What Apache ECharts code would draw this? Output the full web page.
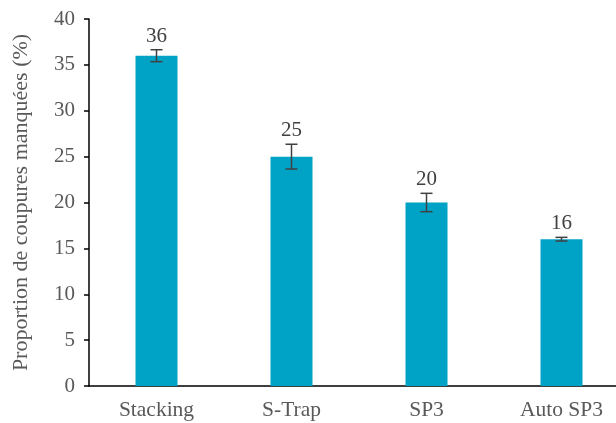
<!DOCTYPE html>
<html>
<head>
<meta charset="utf-8">
<script src="https://cdn.jsdelivr.net/npm/echarts@6/dist/echarts.min.js"></script>
<style>
  html, body { margin: 0; padding: 0; background: #fff; }
  #chart { width: 616px; height: 423px; }
</style>
</head>
<body>
<div id="chart"></div>
<script>
  // données
  const categories = ['Stacking', 'S-Trap', 'SP3', 'Auto SP3'];
  const values = [36, 25, 20, 16];
  const errors = [0.65, 1.35, 1.0, 0.2];
  const yTicks = { min: 0, max: 40, interval: 5 };

  const font = '"Liberation Serif", "DejaVu Serif", serif';
  const chart = echarts.init(document.getElementById('chart'));

  chart.setOption({
    animation: false,
    grid: { left: 89, top: 19, width: 540, bottom: 37, outerBoundsMode: 'none', containLabel: false },
    xAxis: {
      type: 'category',
      data: categories,
      axisLine: { lineStyle: { color: '#000', width: 1.5 } },
      axisTick: { alignWithLabel: true, length: 5, lineStyle: { color: '#000', width: 1.5 } },
      axisLabel: { color: '#595959', fontFamily: font, fontSize: 21.5, margin: 13 }
    },
    yAxis: {
      type: 'value',
      min: yTicks.min,
      max: yTicks.max,
      interval: yTicks.interval,
      name: 'Proportion de coupures manquées (%)',
      nameLocation: 'middle',
      nameGap: 57,
      nameTextStyle: { color: '#595959', fontFamily: font, fontSize: 22 },
      splitLine: { show: false },
      axisLine: { show: true, lineStyle: { color: '#000', width: 1.5 } },
      axisTick: { show: true, length: 5, lineStyle: { color: '#000', width: 1.5 } },
      axisLabel: { color: '#595959', fontFamily: font, fontSize: 21, margin: 14 }
    },
    series: [{
      type: 'bar',
      data: values,
      barWidth: 42,
      itemStyle: { color: '#00A3C6' }
    }, {
      // barres d'erreur + étiquettes
      type: 'custom',
      data: values.map((v, i) => [i, v - errors[i], v + errors[i], v]),
      renderItem: function (params, api) {
        const lo = api.coord([api.value(0), api.value(1)]);
        const hi = api.coord([api.value(0), api.value(2)]);
        const half = 6;
        const style = { stroke: '#404040', lineWidth: 1.5 };
        return {
          type: 'group',
          children: [
            { type: 'line', shape: { x1: hi[0], y1: hi[1], x2: lo[0], y2: lo[1] }, style },
            { type: 'line', shape: { x1: hi[0] - half, y1: hi[1], x2: hi[0] + half, y2: hi[1] }, style },
            { type: 'line', shape: { x1: lo[0] - half, y1: lo[1], x2: lo[0] + half, y2: lo[1] }, style },
            {
              type: 'text',
              x: hi[0],
              y: hi[1] - 3,
              style: {
                text: String(api.value(3)),
                fill: '#404040',
                font: '21px ' + font,
                align: 'center',
                verticalAlign: 'bottom'
              }
            }
          ]
        };
      },
      z: 10
    }]
  });
</script>
</body>
</html>
